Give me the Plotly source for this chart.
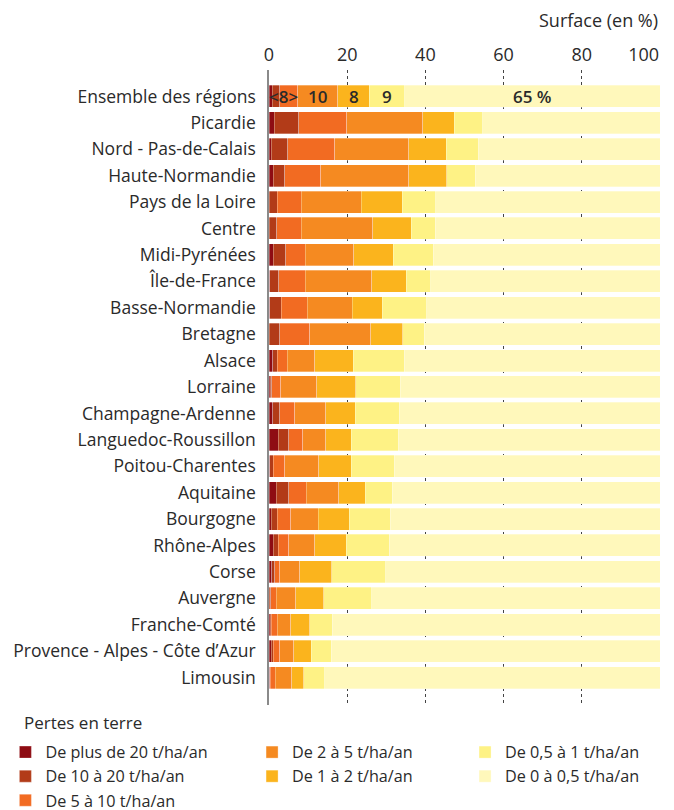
import plotly.graph_objects as go
import numpy as np

regions = [
    "Ensemble des régions", "Picardie", "Nord - Pas-de-Calais", "Haute-Normandie",
    "Pays de la Loire", "Centre", "Midi-Pyrénées", "Île-de-France", "Basse-Normandie",
    "Bretagne", "Alsace", "Lorraine", "Champagne-Ardenne", "Languedoc-Roussillon",
    "Poitou-Charentes", "Aquitaine", "Bourgogne", "Rhône-Alpes", "Corse", "Auvergne",
    "Franche-Comté", "Provence - Alpes - Côte d’Azur", "Limousin",
]

classes = [
    "De plus de 20 t/ha/an", "De 10 à 20 t/ha/an", "De 5 à 10 t/ha/an",
    "De 2 à 5 t/ha/an", "De 1 à 2 t/ha/an", "De 0,5 à 1 t/ha/an", "De 0 à 0,5 t/ha/an",
]

plus20 = [0.8, 1.4, 0.6, 1.1, 0.1, 0.1, 1.1, 0.2, 0.2, 0.1, 0.9, 0.3, 0.9, 2.4, 0.2, 1.9, 0.6, 1.1, 0.7, 0.1, 0.3, 0.6, 0.2]
de10a20 = [1.9, 6.2, 4.2, 2.9, 2.0, 1.9, 3.2, 2.3, 2.9, 2.6, 1.2, 0.4, 1.9, 2.6, 0.9, 3.2, 1.5, 1.3, 0.8, 0.3, 0.3, 0.5, 0.1]
de5a10 = [4.7, 12.3, 12.0, 9.2, 6.2, 6.3, 5.0, 6.8, 6.7, 7.7, 2.6, 2.3, 3.8, 3.6, 2.9, 4.4, 3.4, 2.6, 1.3, 1.5, 1.5, 1.6, 1.3]
de2a5 = [10.2, 19.4, 18.9, 22.6, 15.3, 18.2, 12.4, 17.0, 11.5, 15.6, 7.0, 9.2, 7.9, 5.9, 8.7, 8.3, 7.1, 6.7, 5.1, 4.9, 3.5, 3.6, 4.2]
de1a2 = [8.1, 8.1, 9.6, 9.7, 10.5, 9.9, 10.1, 8.8, 7.6, 8.2, 9.9, 10.0, 7.6, 6.5, 8.3, 6.8, 7.9, 8.0, 8.2, 7.2, 4.8, 4.5, 3.1]
de05a1 = [9.0, 7.3, 8.2, 7.2, 8.6, 6.1, 10.2, 6.3, 11.5, 5.5, 13.0, 11.4, 11.2, 12.0, 11.0, 6.9, 10.5, 11.0, 13.7, 12.3, 5.8, 5.1, 5.3]
de0a05 = [65.3, 45.3, 46.5, 47.3, 57.3, 57.5, 58.0, 58.6, 59.6, 60.3, 65.4, 66.4, 66.7, 67.0, 68.0, 68.5, 69.0, 69.3, 70.2, 73.7, 83.8, 84.1, 85.8]

series = [plus20, de10a20, de5a10, de2a5, de1a2, de05a1, de0a05]
colors = ["#8E0C13", "#B23B18", "#F26B22", "#F58A21", "#FBB41D", "#FEF285", "#FFF8BB"]
legend_ids = ["legend", "legend", "legend", "legend2", "legend2", "legend3", "legend3"]

ens_labels = ["<8>", "10", "8", "9", "65 %"]
ens_spans = [(0, 3), (3, 4), (4, 5), (5, 6), (6, 7)]

x_ticks = [0, 20, 40, 60, 80, 100]
x_ticktext = ["0", "20", "40", "60", "80", "100" + "\u00a0" * 7]

FONT = "Open Sans"
TXT = "#2a2a2a"

fig = go.Figure()
for name, vals, col, lg in zip(classes, series, colors, legend_ids):
    fig.add_trace(go.Bar(
        y=regions, x=vals, name=name, orientation="h",
        marker=dict(color=col, line=dict(color="rgba(255,255,255,0.5)", width=0.6)),
        legend=lg,
    ))

# labels on the first bar
ens_vals = [s[0] for s in series]
cum = np.concatenate([[0], np.cumsum(ens_vals)])
for lab, (a, b) in zip(ens_labels, ens_spans):
    fig.add_annotation(x=(cum[a] + cum[b]) / 2, y=regions[0], text=lab, showarrow=False,
                       font=dict(family=FONT, size=17, color=TXT, weight=600),
                       xanchor="center", yanchor="middle")

fig.add_annotation(text="Surface (en %)", xref="paper", yref="paper", x=1.0, y=1.0,
                   yshift=50, xanchor="right", yanchor="middle", showarrow=False,
                   font=dict(family=FONT, size=18, color=TXT))

leg_font = dict(family=FONT, size=16.2, color=TXT)
fig.add_annotation(text="Pertes en terre", xref="paper", yref="paper", x=-0.6317, y=-0.0268,
                   xanchor="left", yanchor="middle", showarrow=False,
                   font=dict(family=FONT, size=17, color=TXT))

fig.update_layout(
    width=674, height=810,
    margin=dict(l=269, r=14, t=70, b=105, autoexpand=False),
    paper_bgcolor="white", plot_bgcolor="white",
    barmode="stack", bargap=0.167,
    font=dict(family=FONT, size=17, color=TXT),
    xaxis=dict(side="top", range=[0, 100], tickvals=x_ticks, ticktext=x_ticktext, ticks="",
               showgrid=True, gridcolor="#444", gridwidth=1, griddash="3px,3px",
               zeroline=False, showline=False, ticklabelstandoff=4, ticklabeloverflow="allow",
               tickfont=dict(family=FONT, size=18, color=TXT)),
    yaxis=dict(categoryorder="array", categoryarray=regions, range=[23.04, -1.0],
               showline=True, linecolor="#8a8a8a", linewidth=1.5, ticks="",
               showgrid=False, ticklabelstandoff=8,
               tickfont=dict(family=FONT, size=17.5, color=TXT)),
    showlegend=True,
    legend=dict(xref="container", yref="container", x=0.008, y=0.0925, xanchor="left", yanchor="top",
                font=leg_font, traceorder="normal",
                bgcolor="rgba(0,0,0,0)", itemclick=False),
    legend2=dict(xref="container", yref="container", x=0.374, y=0.0925, xanchor="left", yanchor="top",
                 font=leg_font, traceorder="normal",
                 bgcolor="rgba(0,0,0,0)"),
    legend3=dict(xref="container", yref="container", x=0.69, y=0.0925, xanchor="left", yanchor="top",
                 font=leg_font, traceorder="normal",
                 bgcolor="rgba(0,0,0,0)"),
)

fig.write_html("out.html", config={"displayModeBar": False},
               post_script="document.body.style.margin='0px';document.body.style.padding='0px';")
